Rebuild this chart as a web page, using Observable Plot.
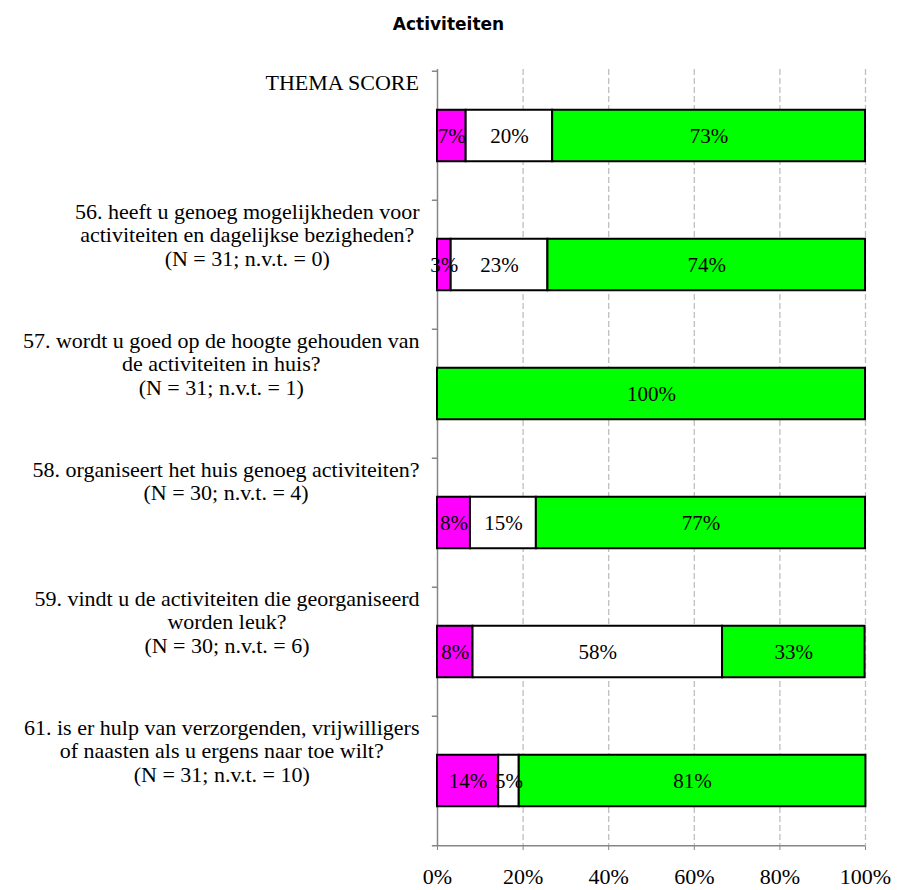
<!DOCTYPE html>
<html><head><meta charset="utf-8">
<script src="https://cdn.jsdelivr.net/npm/d3@7"></script>
<script src="https://cdn.jsdelivr.net/npm/@observablehq/plot@0.6"></script>
<style>
body{margin:0;background:#fff;}
#title{height:40px;box-sizing:border-box;padding-top:14px;line-height:20px;text-align:center;font-family:"DejaVu Sans";font-weight:bold;font-size:17px;color:#000;}
</style></head><body>
<div id="title">Activiteiten</div>
<div id="chart"></div>
<script>
const categories = [
  "THEMA SCORE",
  "56. heeft u genoeg mogelijkheden voor\nactiviteiten en dagelijkse bezigheden?\n(N = 31; n.v.t. = 0)",
  "57. wordt u goed op de hoogte gehouden van\nde activiteiten in huis?\n(N = 31; n.v.t. = 1)",
  "58. organiseert het huis genoeg activiteiten?\n(N = 30; n.v.t. = 4)",
  "59. vindt u de activiteiten die georganiseerd\nworden leuk?\n(N = 30; n.v.t. = 6)",
  "61. is er hulp van verzorgenden, vrijwilligers\nof naasten als u ergens naar toe wilt?\n(N = 31; n.v.t. = 10)"
];
const negative = [6.7, 3.2, 0, 7.7, 8.3, 14.3];
const neutral  = [20.2, 22.6, 0, 15.4, 58.3, 4.8];
const positive = [73.1, 74.2, 100, 76.9, 33.3, 81.0];
const seriesNames = ["negatief", "neutraal", "positief"];
const seriesColors = ["#FF00FF", "#FFFFFF", "#00FF00"];
const xTicks = [0, 20, 40, 60, 80, 100];

const seriesValues = [negative, neutral, positive];
const rows = [];
categories.forEach((c, i) => {
  seriesNames.forEach((s, j) => {
    const v = seriesValues[j][i];
    if (v > 0) rows.push({cat: c, series: s, value: v});
  });
});

const width = 897, height = 850, marginTop = 29, marginBottom = 44, marginLeft = 437, marginRight = 32;
const band = (height - marginTop - marginBottom) / categories.length;
const labelFont = 22;

const ctx = document.createElement("canvas").getContext("2d");
ctx.font = `${labelFont}px "Liberation Serif"`;
const blockWidth = c => Math.max(...c.split("\n").map(l => ctx.measureText(l).width));

const labelMarks = categories.map(c => Plot.text([c], {
  x: 0, y: d => d, text: d => d,
  dx: -(18 + blockWidth(c) / 2), dy: -band / 2 + 2.7,
  lineAnchor: "top", textAnchor: "middle", lineHeight: 1.05,
  fontSize: labelFont, fill: "black"
}));

const chart = Plot.plot({
  width, height, marginTop, marginBottom, marginLeft, marginRight,
  style: {fontFamily: "Liberation Serif", fontSize: "22px", background: "white", color: "black"},
  x: {domain: [0, 100], axis: null, label: null},
  y: {domain: categories, padding: 0, axis: null, label: null},
  color: {domain: seriesNames, range: seriesColors},
  marks: [
    Plot.ruleX(xTicks.slice(1), {stroke: "#bfbfbf", strokeWidth: 1.3, strokeDasharray: "6,3"}),
    Plot.ruleX([0], {stroke: "#868686", strokeWidth: 1.5}),
    Plot.ruleY(categories, {x1: -1.2, x2: 0, dy: -band / 2, stroke: "#868686", strokeWidth: 1.5}),
    Plot.ruleY([categories[categories.length - 1]], {x1: -1.2, x2: 100, dy: band / 2, stroke: "#868686", strokeWidth: 1.5}),
    Plot.axisX(xTicks, {tickSize: 4, tickPadding: 18, stroke: "#868686", fill: "black", tickFormat: d => d + "%", fontSize: 22, label: null}),
    Plot.barX(rows, Plot.stackX({x: "value", y: "cat", fill: "series", stroke: "black", strokeWidth: 2, insetTop: (band - 52) / 2, insetBottom: (band - 52) / 2})),
    Plot.text(rows, Plot.stackX({x: "value", y: "cat", text: d => Math.round(d.value) + "%", fill: "black", fontSize: 21})),
    ...labelMarks
  ]
});
document.getElementById("chart").appendChild(chart);
</script>
</body></html>
